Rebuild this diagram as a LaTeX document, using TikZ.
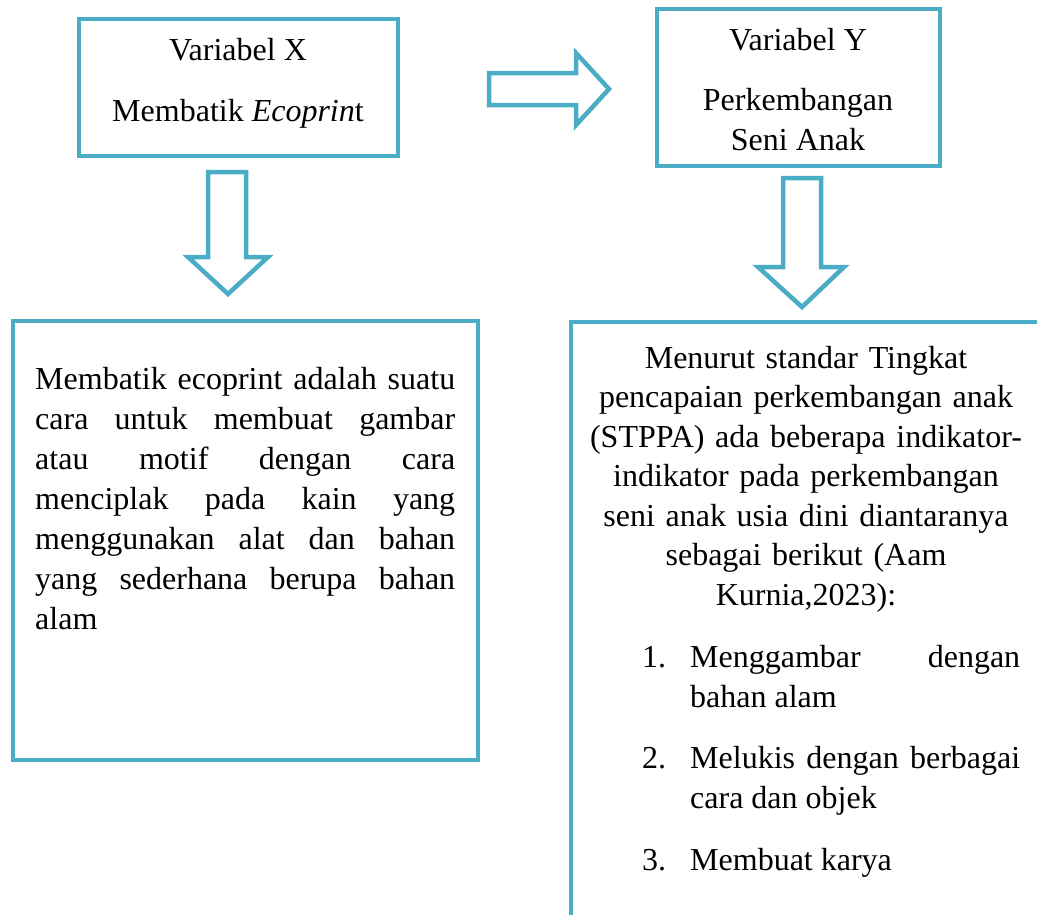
\documentclass[tikz,border=0pt]{standalone}
\usepackage{fontspec}
\setmainfont{Liberation Serif}
\definecolor{tealb}{HTML}{4BACC6}
\begin{document}
\begin{tikzpicture}[x=1pt,y=-1pt,
  boxst/.style={draw=tealb, line width=4.5pt, rectangle, inner sep=0pt, fill=white},
  arrowst/.style={draw=tealb, line width=4.5pt, fill=white, line join=miter},
  lbl/.style={inner sep=0pt, font=\fontsize{32}{40}\selectfont},
  para/.style={inner sep=0pt, font=\fontsize{32}{40}\selectfont, align=justify},
  cpara/.style={inner sep=0pt, font=\fontsize{32}{39.5}\selectfont, align=center}]
\clip (0,0) rectangle (1037,914);
\fill[white] (0,0) rectangle (1037,914);

% top boxes
\node[boxst, minimum width=319pt, minimum height=137pt] (bx) at (238.5,87.5) {};
\node[boxst, minimum width=283pt, minimum height=157pt] (by) at (798.5,87.5) {};
\node[lbl, anchor=base] (bx1) at (238,60) {Variabel X};
\node[lbl, anchor=base] (bx2) at (238,121) {Membatik \textit{Ecoprin}t};
\node[lbl, anchor=base] (by1) at (798,50) {Variabel Y};
\node[lbl, anchor=base] (by2) at (798,110) {Perkembangan};
\node[lbl, anchor=base] (by3) at (798,150) {Seni Anak};

% bottom boxes
\node[boxst, minimum width=465pt, minimum height=439pt] (bl) at (245.5,540.5) {};
\node[boxst, minimum width=640pt, minimum height=700pt] (br) at (891,672) {};

% block arrows
\draw[arrowst] (489,73) -- (576,73) -- (576,53) -- (609,89) -- (576,125) -- (576,105) -- (489,105) -- cycle;
\draw[arrowst] (208,172) -- (246,172) -- (246,257) -- (268,257) -- (228,294) -- (188,257) -- (208,257) -- cycle;
\draw[arrowst] (783,178) -- (821,178) -- (821,267) -- (844,267) -- (802,307) -- (758,267) -- (783,267) -- cycle;

% left text
\node[para, text width=420pt, anchor=base west] (lt) at (35,389)
 {Membatik ecoprint adalah suatu\linebreak cara untuk membuat gambar\linebreak atau motif dengan cara\linebreak menciplak pada kain yang\linebreak menggunakan alat dan bahan\linebreak yang sederhana berupa bahan\linebreak alam};

% right text
\node[cpara, text width=460pt, anchor=base] (rt) at (806,368)
 {Menurut standar Tingkat\\ pencapaian perkembangan anak\\ (STPPA) ada beberapa indikator-\\ indikator pada perkembangan\\ seni anak usia dini diantaranya\\ sebagai berikut (Aam\\ Kurnia,2023):};

\node[lbl, anchor=base west] (n1) at (642,667) {1.};
\node[para, text width=330pt, anchor=base west] (i1) at (690,667) {Menggambar dengan\linebreak bahan alam};
\node[lbl, anchor=base west] (n2) at (642,768) {2.};
\node[para, text width=330pt, anchor=base west] (i2) at (690,768) {Melukis dengan berbagai\linebreak cara dan objek};
\node[lbl, anchor=base west] (n3) at (642,870) {3.};
\node[para, text width=330pt, anchor=base west] (i3) at (690,870) {Membuat karya};
\end{tikzpicture}
\end{document}
